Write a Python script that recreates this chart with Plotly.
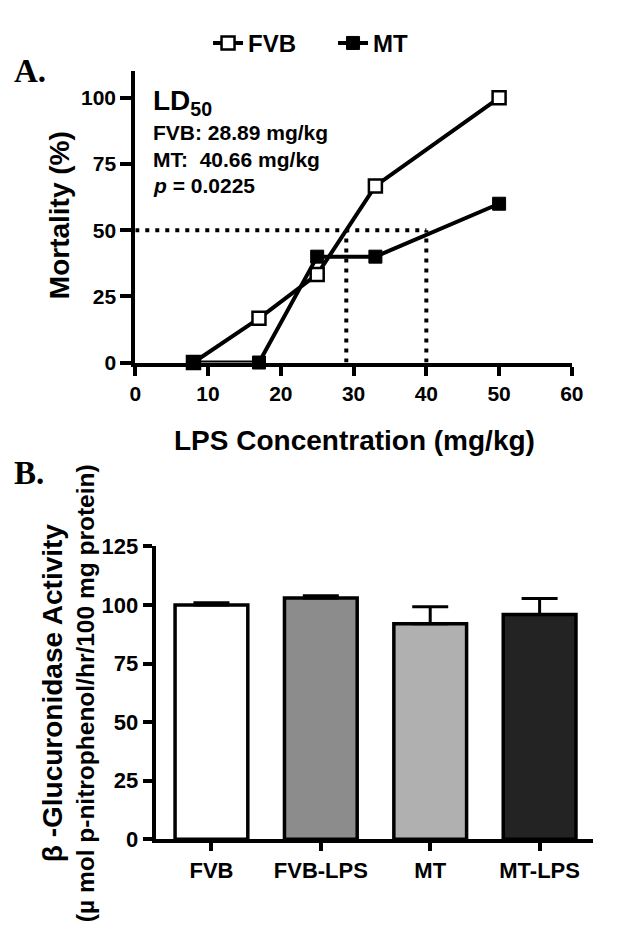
import plotly.graph_objects as go

# ---------------- data ----------------
# Panel A: mortality vs LPS dose
lps_dose = [8, 17, 25, 33, 50]
fvb_mortality = [0, 16.7, 33.3, 66.7, 100]
mt_mortality = [0, 0, 40, 40, 60]
ld50_level = 50
ld50_fvb_x = 29
ld50_mt_x = 40
x_ticks_a = [0, 10, 20, 30, 40, 50, 60]
y_ticks_a = [0, 25, 50, 75, 100]

# Panel B: beta-glucuronidase activity
groups = ["FVB", "FVB-LPS", "MT", "MT-LPS"]
activity = [100, 103, 92, 96]
activity_err = [1.0, 1.0, 7.3, 6.8]
bar_colors = ["#ffffff", "#8c8c8c", "#b0b0b0", "#232323"]
y_ticks_b = [0, 25, 50, 75, 100, 125]

# page is 620x945; the body keeps its default 8px margin, so the figure is 604x929
PAGE_OFF = 8
W, H = 604, 929
def px(x):
    return (x - PAGE_OFF) / W
def py(y):
    return 1 - (y - PAGE_OFF) / H

FONT = "Liberation Sans, Arial, sans-serif"
fig = go.Figure()

# dotted LD50 guide lines
dot = dict(color="black", width=4, dash="4px,6px")
fig.add_trace(go.Scatter(x=[0, ld50_mt_x], y=[ld50_level, ld50_level], mode="lines",
                         line=dot, showlegend=False, xaxis="x", yaxis="y", hoverinfo="skip"))
fig.add_trace(go.Scatter(x=[ld50_fvb_x, ld50_fvb_x], y=[0, ld50_level], mode="lines",
                         line=dot, showlegend=False, xaxis="x", yaxis="y", hoverinfo="skip"))
fig.add_trace(go.Scatter(x=[ld50_mt_x, ld50_mt_x], y=[0, ld50_level], mode="lines",
                         line=dot, showlegend=False, xaxis="x", yaxis="y", hoverinfo="skip"))

fig.add_trace(go.Scatter(x=lps_dose, y=fvb_mortality, mode="lines+markers", name="<b>FVB</b>",
                         line=dict(color="black", width=4),
                         marker=dict(symbol="square", size=13, color="white",
                                     line=dict(color="black", width=2.5)),
                         cliponaxis=False, xaxis="x", yaxis="y"))
fig.add_trace(go.Scatter(x=lps_dose, y=mt_mortality, mode="lines+markers", name="<b>MT</b>",
                         line=dict(color="black", width=4),
                         marker=dict(symbol="square", size=13, color="black",
                                     line=dict(color="black", width=1)),
                         cliponaxis=False, xaxis="x", yaxis="y"))

fig.add_trace(go.Bar(x=groups, y=activity, width=0.665,
                     marker=dict(color=bar_colors, line=dict(color="black", width=3.5)),
                     error_y=dict(type="data", array=activity_err,
                                  arrayminus=[0] * len(activity_err), symmetric=False,
                                  color="black", thickness=3, width=18),
                     showlegend=False, xaxis="x2", yaxis="y2"))

def axis_common(size):
    return dict(showline=True, linecolor="black", linewidth=4, ticks="outside",
                tickcolor="black", tickwidth=3.5, showgrid=False, zeroline=False,
                tickfont=dict(family=FONT, size=size, color="black"))

def bold(vals):
    return ["<b>%s</b>" % v for v in vals]

fig.update_layout(
    width=W, height=H, autosize=False,
    margin=dict(l=0, r=0, t=0, b=0),
    paper_bgcolor="white", plot_bgcolor="white",
    font=dict(family=FONT, color="black"),
    xaxis=dict(domain=[px(133), px(583)], range=[0, 60], tickvals=x_ticks_a,
               ticktext=bold(x_ticks_a), ticklen=9, anchor="y", **axis_common(21)),
    yaxis=dict(domain=[py(360), py(60)], range=[0, 110.3], tickvals=y_ticks_a,
               ticktext=bold(y_ticks_a), ticklen=11, anchor="x", **axis_common(21)),
    xaxis2=dict(domain=[px(154), px(605)], range=[-0.51, 3.49], type="category",
                tickvals=groups, ticktext=bold(groups),
                ticklen=8, anchor="y2", **axis_common(22)),
    yaxis2=dict(domain=[py(850), py(549)], range=[0, 125], tickvals=y_ticks_b,
                ticktext=bold(y_ticks_b), ticklen=9, anchor="x2", **axis_common(22)),
    legend=dict(orientation="h", x=px(208), y=py(32), xanchor="left", yanchor="middle",
                font=dict(family=FONT, size=24, color="black"),
                bgcolor="rgba(0,0,0,0)", entrywidth=80, itemwidth=30),
    showlegend=True,
)

ann = []
def add(text, x, y, size, xanchor="center", angle=0, family=FONT):
    ann.append(dict(text=text, x=px(x), y=py(y), xref="paper", yref="paper",
                    xanchor=xanchor, yanchor="middle", showarrow=False, textangle=angle,
                    font=dict(family=family, size=size, color="black")))

add("<b>A.</b>", 6, 60, 33, xanchor="left", family="Liberation Serif, Times New Roman, serif")
add("<b>B.</b>", 6, 474, 33, xanchor="left", family="Liberation Serif, Times New Roman, serif")
add("<b>LD<sub>50</sub></b>", 149, 93, 28, xanchor="left")
add("<b>FVB: 28.89 mg/kg</b>", 149, 124, 21, xanchor="left")
add("<b>MT:  40.66 mg/kg</b>", 149, 151, 21, xanchor="left")
add("<b><i>p</i> = 0.0225</b>", 149, 178, 21, xanchor="left")
add("<b>Mortality (%)</b>", 55, 209, 28, angle=-90)
add("<b>LPS Concentration (mg/kg)</b>", 359, 440, 28)
add("<b>\u03b2 -Glucuronidase Activity</b>", 48, 699, 28, angle=-90)
add("<b>(\u00b5 mol p-nitrophenol/hr/100 mg protein)</b>", 82, 700, 24.5, angle=-90)
fig.update_layout(annotations=ann)

fig.write_html("out.html", config={"displayModeBar": False})
